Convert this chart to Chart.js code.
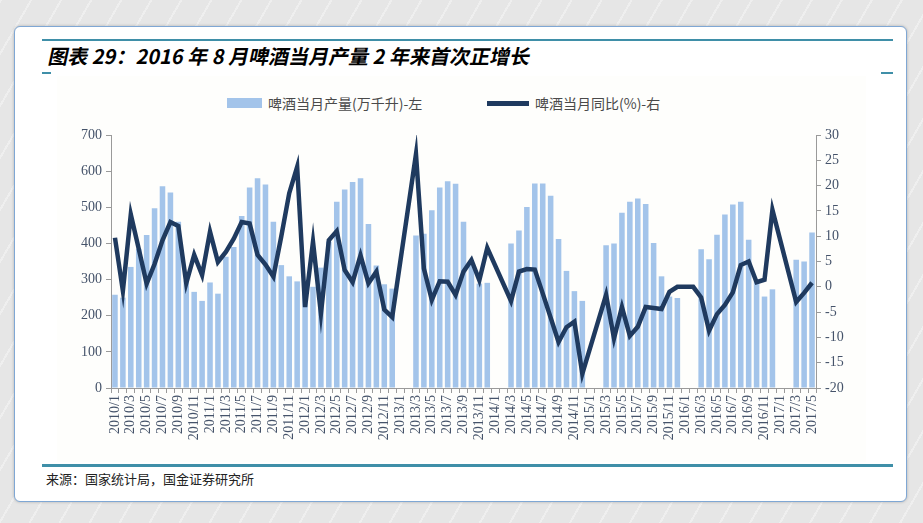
<!DOCTYPE html>
<html>
<head>
<meta charset="utf-8">
<script src="https://cdn.jsdelivr.net/npm/chart.js@4"></script>
<style>
  html, body { margin: 0; padding: 0; }
  body {
    width: 923px; height: 523px; overflow: hidden; position: relative;
    background: #e6e6e6;
    background-image: repeating-linear-gradient(120deg, rgba(255,255,255,0.35) 0 2px, rgba(0,0,0,0) 2px 26px);
    font-family: "Noto Sans CJK SC", sans-serif;
  }
  #panel {
    position: absolute; left: 14px; top: 26px; width: 891px; height: 474px;
    background: #ffffff; border: 1px solid #7fa7d4; border-radius: 6px;
    box-shadow: 0 0 3px rgba(0,0,0,0.25);
  }
  .rule { position: absolute; background: #3f8fa8; }
  #title {
    position: absolute; left: 46px; top: 41px; font-size: 20px; font-weight: bold;
    color: #000; transform: skewX(-12deg); transform-origin: left bottom; white-space: nowrap;
  }
  #plotbg { position: absolute; left: 57px; top: 76px; width: 809px; height: 386px; background: #fefefc; }
  #legend {
    position: absolute; top: 93px; left: 0; width: 923px; height: 20px;
    font-family: "Noto Sans CJK SC", sans-serif; font-size: 14px; color: #4a4a4a;
  }
  #legend .sw { position: absolute; }
  #legend .tx { position: absolute; top: 0; white-space: nowrap; }
  #wrap { position: absolute; left: 57px; top: 120px; width: 809px; height: 342px; }
  #source { position: absolute; left: 46px; top: 469px; font-size: 13px; color: #222; }
</style>
</head>
<body>
<div id="panel"></div>
<div class="rule" style="left:42px; top:39px; width:851px; height:2px;"></div>
<div id="title">图表 29：2016 年 8 月啤酒当月产量 2 年来首次正增长</div>
<div class="rule" style="left:42px; top:72px; width:9px; height:2px;"></div>
<div class="rule" style="left:881px; top:72px; width:12px; height:2px;"></div>
<div id="plotbg"></div>
<div id="legend">
  <div class="sw" style="left:227px; top:5px; width:35px; height:10px; background:#a3c4ea;"></div>
  <div class="tx" style="left:268px;">啤酒当月产量(万千升)-左</div>
  <div class="sw" style="left:487px; top:8px; width:42px; height:5px; background:#1f3a5f;"></div>
  <div class="tx" style="left:535px;">啤酒当月同比(%)-右</div>
</div>
<div id="wrap"><canvas id="c"></canvas></div>
<div class="rule" style="left:42px; top:464px; width:851px; height:3px;"></div>
<div id="source">来源：国家统计局，国金证券研究所</div>

<script>
// months 2010/1 .. 2017/5
const years = [2010, 2011, 2012, 2013, 2014, 2015, 2016, 2017];
const months = [];
years.forEach(y => {
    for (let m = 1; m <= 12; m++) {
        if (y === 2017 && m > 5) break;
        months.push(y + '/' + m);
    }
});

// beer monthly output (万千升), left axis; null = not published
const output = [
    258, 250, 335, 385, 423, 497, 558, 541, 460, 298, 266, 241,   // 2010
    292, 261, 363, 390, 476, 555, 580, 563, 460, 340, 309, 295,   // 2011
    285, 280, 333, 405, 515, 549, 570, 580, 454, 339, 287, 275,   // 2012
    null, null, 422, 427, 492, 555, 572, 565, 460, 340, 289, 291, // 2013
    null, null, 400, 436, 501, 566, 566, 532, 412, 324, 268, 241, // 2014
    null, null, 395, 400, 485, 515, 524, 509, 401, 309, 253, 249, // 2015
    null, null, 384, 356, 424, 480, 508, 515, 410, 300, 253, 273, // 2016
    null, null, 355, 350, 430                                     // 2017
];

// beer monthly yoy (%), right axis
const yoy = [
    9.7, -0.8, 14.3, 7.5, 0.6, 4.5, 9.2, 12.8, 12.0, 0.7, 6.3, 2.3,
    10.9, 4.9, 6.9, 9.5, 12.8, 12.5, 6.3, 4.4, 2.0, 10.0, 18.5, 23.7,
    -4.0, 8.9, -5.3, 9.2, 11.0, 3.3, 0.9, 6.2, 0.7, 3.0, -4.5, -6.0,
    null, null, 26.2, 3.6, -2.6, 1.1, 1.0, -1.6, 3.0, 5.3, 1.3, 7.7,
    null, null, -2.8, 3.0, 3.5, 3.4, -1.3, -6.1, -10.9, -8.0, -6.9, -17.2,
    null, null, -1.6, -10.2, -4.0, -9.7, -7.9, -4.0, -4.2, -4.4, -1.0, 0.0,
    0.0, 0.0, -2.1, -8.7, -5.4, -3.6, -1.1, 4.3, 5.0, 0.9, 1.4, 15.2,
    null, null, -3.0, -1.2, 0.8
];

const tickFont = { family: 'Liberation Serif', size: 14 };
const tickColor = '#45536a';
const axisColor = '#9a9a9a';

new Chart(document.getElementById('c'), {
    type: 'bar',
    data: {
        labels: months,
        datasets: [
            {
                type: 'line',
                label: '啤酒当月同比(%)-右',
                data: yoy,
                yAxisID: 'y1',
                borderColor: '#1f3a5f',
                borderWidth: 4.5,
                pointRadius: 0,
                tension: 0,
                spanGaps: true,
                order: 0
            },
            {
                label: '啤酒当月产量(万千升)-左',
                data: output,
                yAxisID: 'y',
                backgroundColor: '#a3c4ea',
                barPercentage: 0.7,
                categoryPercentage: 1.0,
                order: 1
            }
        ]
    },
    options: {
        responsive: true,
        maintainAspectRatio: false,
        animation: false,
        layout: { padding: { top: 15, left: 0, right: 0, bottom: 0 } },
        plugins: {
            legend: { display: false },
            tooltip: { enabled: false }
        },
        scales: {
            x: {
                offset: true,
                grid: { display: true, drawOnChartArea: false, offset: true, tickLength: 5, color: axisColor },
                border: { color: axisColor },
                ticks: {
                    autoSkip: false, maxRotation: 90, minRotation: 90, padding: 2,
                    font: tickFont, color: tickColor,
                    callback: function (v, i) { return i % 2 === 0 ? months[i] : ''; }
                },
                afterFit: function (s) { s.height = 74; }
            },
            y: {
                position: 'left',
                min: 0, max: 700,
                grid: { drawOnChartArea: false, tickLength: 5, color: axisColor },
                border: { color: axisColor },
                ticks: { stepSize: 100, font: tickFont, color: tickColor, padding: 4 },
                afterFit: function (s) { s.width = 54; }
            },
            y1: {
                position: 'right',
                min: -20, max: 30,
                grid: { drawOnChartArea: false, tickLength: 5, color: axisColor },
                border: { color: axisColor },
                ticks: { stepSize: 5, font: tickFont, color: tickColor, padding: 4 },
                afterFit: function (s) { s.width = 50; }
            }
        }
    }
});
</script>
</body>
</html>
